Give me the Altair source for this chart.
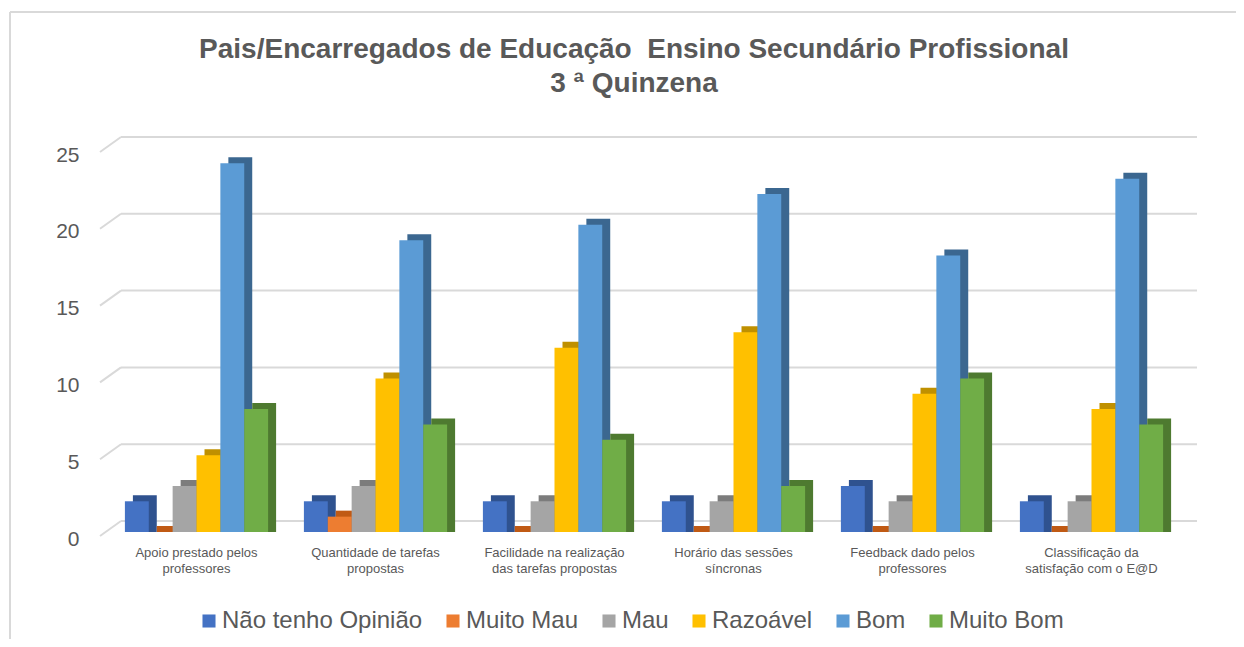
import altair as alt
import pandas as pd

categories = [
    "Apoio prestado pelos\nprofessores",
    "Quantidade de tarefas\npropostas",
    "Facilidade na realização\ndas tarefas propostas",
    "Horário das sessões\nsíncronas",
    "Feedback dado pelos\nprofessores",
    "Classificação da\nsatisfação com o E@D",
]
series = ["Não tenho Opinião", "Muito Mau", "Mau", "Razoável", "Bom", "Muito Bom"]
nao_tenho_opiniao = [2, 2, 2, 2, 3, 2]
muito_mau = [0, 1, 0, 0, 0, 0]
mau = [3, 3, 2, 2, 2, 2]
razoavel = [5, 10, 12, 13, 9, 8]
bom = [24, 19, 20, 22, 18, 23]
muito_bom = [8, 7, 6, 3, 10, 7]
y_ticks = [0, 5, 10, 15, 20, 25]

colors = ["#4472C4", "#ED7D31", "#A5A5A5", "#FFC000", "#5B9BD5", "#70AD47"]
dark_colors = ["#2F528F", "#C05A14", "#7C7C7C", "#BF9000", "#3B6790", "#4E7A30"]

values = [nao_tenho_opiniao, muito_mau, mau, razoavel, bom, muito_bom]
rows = []
for s, vals in zip(series, values):
    for c, v in zip(categories, vals):
        rows.append({"categoria": c, "serie": s, "valor": v, "sombra": s + " "})
df = pd.DataFrame(rows)
ticks_df = pd.DataFrame({"v": y_ticks})
one = pd.DataFrame({"a": [0]})

FONT = "Liberation Sans"
TXT = "#595959"
GRID = "#D9D9D9"

PLOT_W = 1074
STEP = PLOT_W / 6.0
BAND = STEP * 0.8
DEPTH_X = 8
DEPTH_Y = 6

x_enc = alt.X(
    "categoria:N",
    sort=categories,
    scale=alt.Scale(paddingInner=0.2, paddingOuter=0.1),
    axis=alt.Axis(
        title=None, labelAngle=0, domain=False, ticks=False,
        labelFontSize=13, labelColor=TXT, labelFont=FONT,
        labelPadding=14, labelLineHeight=16, labelLimit=0,
        labelExpr="split(datum.value, '\\n')",
    ),
)
y_scale = alt.Scale(domain=[0, 25], nice=False)
y_axis = alt.Axis(
    title=None, values=y_ticks, domain=False, ticks=False, grid=False,
    labelFontSize=21, labelColor=TXT, labelFont=FONT,
    labelPadding=28, labelOffset=7,
)

grid_h = alt.Chart(ticks_df).mark_rule(color=GRID, strokeWidth=2, yOffset=-11).encode(
    y=alt.Y("v:Q", scale=y_scale, axis=y_axis),
    x=alt.value(14),
    x2=alt.value(1090),
)
grid_d = alt.Chart(ticks_df).mark_rule(color=GRID, strokeWidth=2, yOffset=4, y2Offset=-11).encode(
    y=alt.Y("v:Q", scale=y_scale, axis=y_axis),
    y2=alt.Y2("v:Q"),
    x=alt.value(-7),
    x2=alt.value(14),
)

shadow = alt.Chart(df).mark_bar(yOffset=-DEPTH_Y, y2Offset=0).encode(
    x=x_enc,
    xOffset=alt.XOffset("serie:N", sort=series,
                        scale=alt.Scale(domain=series, range=[DEPTH_X, BAND + DEPTH_X])),
    y=alt.Y("valor:Q", scale=y_scale, stack=None, axis=y_axis),
    y2=alt.datum(0),
    color=alt.Color("sombra:N", sort=[s + " " for s in series],
                    scale=alt.Scale(domain=[s + " " for s in series], range=dark_colors),
                    legend=None),
)

bars = alt.Chart(df).mark_bar().encode(
    x=x_enc,
    xOffset=alt.XOffset("serie:N", sort=series,
                        scale=alt.Scale(domain=series, range=[0, BAND])),
    y=alt.Y("valor:Q", scale=y_scale, stack=None, axis=y_axis),
    color=alt.Color(
        "serie:N", sort=series,
        scale=alt.Scale(domain=series, range=colors),
        legend=alt.Legend(
            title=None, orient="none", direction="horizontal",
            legendX=90, legendY=461, symbolType="square", symbolSize=170,
            symbolStrokeWidth=0, labelFontSize=24, labelColor=TXT, labelFont=FONT,
            labelOffset=1, columnPadding=18, labelLimit=0,
        ),
    ),
)

border_left = alt.Chart(one).mark_rule(color=GRID, strokeWidth=2).encode(
    x=alt.value(-97), y=alt.value(-136), y2=alt.value(520)
)
border_top = alt.Chart(one).mark_rule(color=GRID, strokeWidth=2).encode(
    x=alt.value(-97), x2=alt.value(1150), y=alt.value(-136)
)

chart = alt.layer(border_left, border_top, grid_h, grid_d, shadow, bars).resolve_scale(
    color="independent", xOffset="independent"
).properties(
    width=PLOT_W,
    height=384,
    autosize=alt.AutoSizeParams(type="none"),
    padding={"left": 99, "top": 140, "right": 55, "bottom": 107},
    background="white",
    title=alt.TitleParams(
        text=["Pais/Encarregados de Educação\u00a0\u00a0Ensino Secundário Profissional", "3 ª Quinzena"],
        font=FONT, fontSize=28, fontWeight="bold", color=TXT,
        anchor="middle", dx=-10, offset=-87, lineHeight=34,
    ),
).configure_view(stroke=None)

chart.save("out.html", embed_options={"renderer": "svg", "actions": False})
